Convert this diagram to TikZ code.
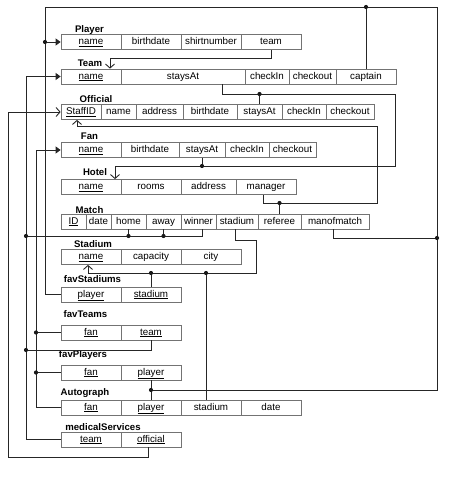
\documentclass[tikz,border=0pt]{standalone}
\usepackage{fontspec}
\setmainfont{Liberation Sans}
\usetikzlibrary{arrows.meta}
\tikzset{
  cellbox/.style={draw=black!55, line width=0.75pt, inner sep=0pt, minimum height=15pt,
    font=\fontsize{9.8}{11}\selectfont, text height=7.2pt, text depth=2pt},
  tlabel/.style={font=\bfseries\fontsize{9.6}{11}\selectfont, inner sep=0pt, anchor=base},
  conn/.style={draw=black!85, line width=0.9pt},
  fillarr/.style={-{Triangle[length=5pt,width=7pt]}},
  openarr/.style={-{Straight Barb[length=4pt,width=9pt]}},
  jdot/.style={fill=black!90}
}
\newcommand\rowcell[5]{\node[cellbox, minimum width={(#3)-(#2)}] (#1) at ({((#2)+(#3))/2},#4) {#5};}
\newcommand\jd[1]{\fill[jdot] (#1) circle (2.1);}
\begin{document}
\begin{tikzpicture}[x=1pt,y=-1pt]
\path[use as bounding box] (0,0) rectangle (474,492);
% ---- labels
\node[tlabel] (L-player) at (89.5,32.5) {Player};
\node[tlabel] (L-team) at (90,66.5) {Team};
\node[tlabel] (L-official) at (96,102.5) {Official};
\node[tlabel] (L-fan) at (89.5,139.5) {Fan};
\node[tlabel] (L-hotel) at (95,175.5) {Hotel};
\node[tlabel] (L-match) at (89.5,213.5) {Match};
\node[tlabel] (L-stadium) at (93,247.5) {Stadium};
\node[tlabel] (L-favst) at (92.5,282.5) {favStadiums};
\node[tlabel] (L-favte) at (85.5,317.5) {favTeams};
\node[tlabel] (L-favpl) at (83,357.5) {favPlayers};
\node[tlabel] (L-auto) at (85,395.5) {Autograph};
\node[tlabel] (L-med) at (103,430.5) {medicalServices};
% ---- Player
\rowcell{P-name}{61}{121}{42}{\underline{name}}
\rowcell{P-birthdate}{121}{181}{42}{birthdate}
\rowcell{P-shirt}{181}{241}{42}{shirtnumber}
\rowcell{P-team}{241}{301}{42}{team}
% ---- Team
\rowcell{T-name}{61}{121}{76.5}{\underline{name}}
\rowcell{T-staysAt}{121}{245}{76.5}{staysAt}
\rowcell{T-checkIn}{245}{289}{76.5}{checkIn}
\rowcell{T-checkout}{289}{336}{76.5}{checkout}
\rowcell{T-captain}{336}{396}{76.5}{captain}
% ---- Official
\rowcell{O-StaffID}{61}{101}{112}{\underline{StaffID}}
\rowcell{O-name}{101}{136}{112}{name}
\rowcell{O-address}{136}{183}{112}{address}
\rowcell{O-birthdate}{183}{237}{112}{birthdate}
\rowcell{O-staysAt}{237}{282}{112}{staysAt}
\rowcell{O-checkIn}{282}{326}{112}{checkIn}
\rowcell{O-checkout}{326}{374}{112}{checkout}
% ---- Fan
\rowcell{F-name}{61}{121}{150}{\underline{name}}
\rowcell{F-birthdate}{121}{179}{150}{birthdate}
\rowcell{F-staysAt}{179}{225}{150}{staysAt}
\rowcell{F-checkIn}{225}{269}{150}{checkIn}
\rowcell{F-checkout}{269}{316}{150}{checkout}
% ---- Hotel
\rowcell{H-name}{61}{121}{187}{\underline{name}}
\rowcell{H-rooms}{121}{181}{187}{rooms}
\rowcell{H-address}{181}{236}{187}{address}
\rowcell{H-manager}{236}{296}{187}{manager}
% ---- Match
\rowcell{M-ID}{61}{86}{221.5}{\underline{ID}}
\rowcell{M-date}{86}{111}{221.5}{date}
\rowcell{M-home}{111}{146}{221.5}{home}
\rowcell{M-away}{146}{181}{221.5}{away}
\rowcell{M-winner}{181}{216}{221.5}{winner}
\rowcell{M-stadium}{216}{258}{221.5}{stadium}
\rowcell{M-referee}{258}{301}{221.5}{referee}
\rowcell{M-manofmatch}{301}{369}{221.5}{manofmatch}
% ---- Stadium
\rowcell{S-name}{61}{121}{257}{\underline{name}}
\rowcell{S-capacity}{121}{181}{257}{capacity}
\rowcell{S-city}{181}{241}{257}{city}
% ---- favStadiums
\rowcell{FS-player}{61}{121}{294.5}{\underline{player}}
\rowcell{FS-stadium}{121}{181}{294.5}{\underline{stadium}}
% ---- favTeams
\rowcell{FT-fan}{61}{121}{332.5}{\underline{fan}}
\rowcell{FT-team}{121}{181}{332.5}{\underline{team}}
% ---- favPlayers
\rowcell{FP-fan}{61}{121}{372.5}{\underline{fan}}
\rowcell{FP-player}{121}{181}{372.5}{\underline{player}}
% ---- Autograph
\rowcell{A-fan}{61}{121}{407.5}{\underline{fan}}
\rowcell{A-player}{121}{181}{407.5}{\underline{player}}
\rowcell{A-stadium}{181}{241}{407.5}{stadium}
\rowcell{A-date}{241}{301}{407.5}{date}
% ---- medicalServices
\rowcell{MS-team}{61}{121}{439.5}{\underline{team}}
\rowcell{MS-official}{121}{181}{439.5}{\underline{official}}

% ===== connectors
% Player.team -> Team
\draw[conn,openarr] (P-team.south) |- (110,58) -- (T-name.north -| 110,0);
% staysAt -> Hotel
\draw[conn,openarr] (T-staysAt.south -| 222,0) -- (222,94) -- (395,94) -- (395,166) -- (115,166) -- (H-name.north -| 115,0);
\draw[conn] (O-staysAt.north) -- (O-staysAt.north |- 0,94);
\draw[conn] (F-staysAt.south) -- (F-staysAt.south |- 0,166);
\jd{O-staysAt.north |- 0,94}
\jd{F-staysAt.south |- 0,166}
% manager / referee -> Official
\draw[conn,openarr] (H-manager.south -| 263,0) -- (263,203) -- (377,203) -- (377,126) -- (77,126) -- (O-StaffID.south -| 77,0);
\draw[conn] (M-referee.north) -- (M-referee.north |- 0,203);
\jd{M-referee.north |- 0,203}
% medicalServices.official -> Official
\draw[conn,openarr] (MS-official.south -| 148,0) -- (148,457) -- (8,457) -- (8,112) -- (O-StaffID.west);
% Team references
\draw[conn,fillarr] (MS-team.west) -| (26,76.5) -- (T-name.west);
\draw[conn] (M-home.south) -- (M-home.south |- 0,236);
\draw[conn] (M-away.south) -- (M-away.south |- 0,236);
\draw[conn] (M-winner.south -| 202,0) -- (202,236) -- (26,236);
\draw[conn] (FT-team.south) -- (FT-team.south |- 0,350) -- (26,350);
\jd{26,236} \jd{M-home.south |- 0,236} \jd{M-away.south |- 0,236} \jd{26,350}
% Fan references
\draw[conn,fillarr] (A-fan.west) -| (36,150) -- (F-name.west);
\draw[conn] (FT-fan.west) -- (FT-fan.west -| 36,0);
\draw[conn] (FP-fan.west) -- (FP-fan.west -| 36,0);
\jd{FT-fan.west -| 36,0} \jd{FP-fan.west -| 36,0}
% Player references
\draw[conn] (FS-player.west) -| (45,7) -- (437,7) -- (437,390) -- (151,390);
\draw[conn,fillarr] (P-name.west -| 45,0) -- (P-name.west);
\draw[conn] (A-player.north) -- (FP-player.south);
\draw[conn] (T-captain.north) -- (T-captain.north |- 0,7);
\draw[conn] (M-manofmatch.south -| 333,0) -- (333,238) -- (437,238);
\jd{P-name.west -| 45,0} \jd{T-captain.north |- 0,7} \jd{437,238} \jd{151,390}
% Stadium references
\draw[conn,openarr] (M-stadium.south -| 235,0) -- (235,240) -- (256,240) -- (256,273) -- (88,273) -- (S-name.south -| 88,0);
\draw[conn] (FS-stadium.north) -- (FS-stadium.north |- 0,273);
\draw[conn] (A-stadium.north -| 206,0) -- (206,273);
\jd{FS-stadium.north |- 0,273} \jd{206,273}
\end{tikzpicture}
\end{document}
